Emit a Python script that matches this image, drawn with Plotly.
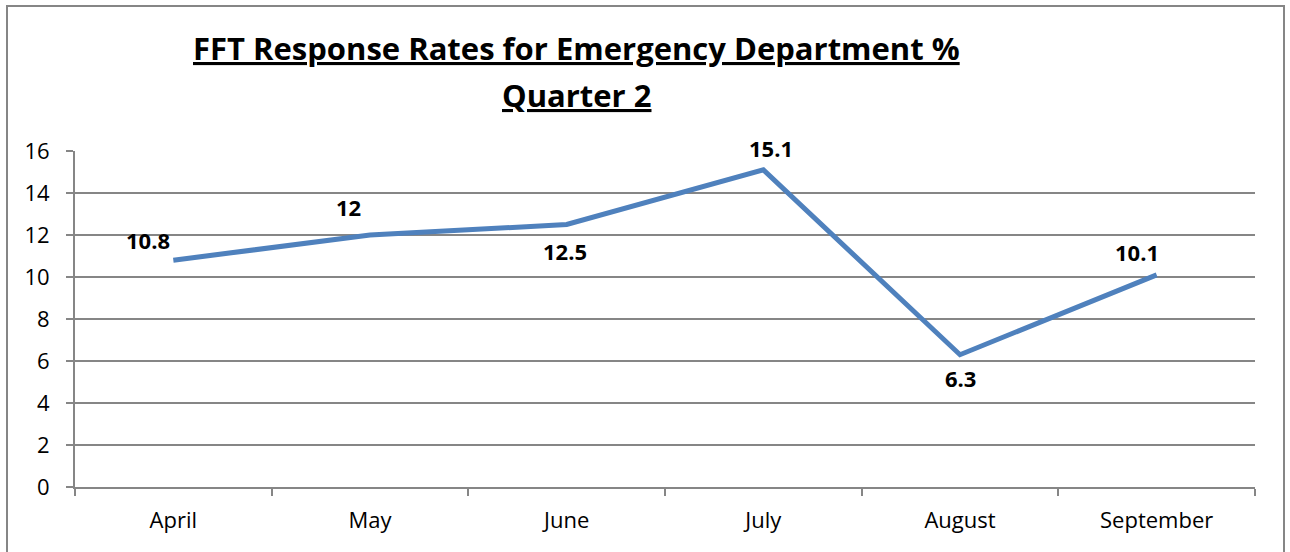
import plotly.graph_objects as go

months = ["April", "May", "June", "July", "August", "September"]
rates = [10.8, 12, 12.5, 15.1, 6.3, 10.1]
label_text = ["10.8", "12", "12.5", "15.1", "6.3", "10.1"]
label_dx = [-25, -22, -2, 8, 0, -20]
label_dy = [20, 28, -26, 22, -23, 23]

L, R, T, B = 75, 35, 151, 65
W, H = 1290, 552
pw, ph = W - L - R, H - T - B

def px_x(px):
    return (px - L) / pw

def px_y(py):
    return (H - B - py) / ph

fig = go.Figure()
fig.add_trace(go.Scatter(x=months, y=rates, mode="lines",
                         line=dict(color="#4F81BD", width=5),
                         hoverinfo="skip", showlegend=False))

for m, v, t, dx, dy in zip(months, rates, label_text, label_dx, label_dy):
    fig.add_annotation(x=m, y=v, text="<b>%s</b>" % t, showarrow=False,
                       xshift=dx, yshift=dy,
                       font=dict(family="Open Sans", size=22, color="black"))

fig.add_annotation(xref="paper", yref="paper", x=px_x(576), y=px_y(48),
                   text="<b><u>FFT Response Rates for Emergency Department %</u></b>",
                   showarrow=False, xanchor="center", yanchor="middle",
                   font=dict(family="Open Sans", size=31, color="black"))
fig.add_annotation(xref="paper", yref="paper", x=px_x(576), y=px_y(95),
                   text="<b><u>Quarter 2</u></b>",
                   showarrow=False, xanchor="center", yanchor="middle",
                   font=dict(family="Open Sans", size=31, color="black"))

fig.add_shape(type="rect", xref="paper", yref="paper",
              x0=px_x(7), x1=px_x(1284), y0=px_y(600), y1=px_y(6),
              line=dict(color="#868686", width=2), fillcolor="rgba(0,0,0,0)",
              layer="below")

fig.update_layout(
    width=W, height=H,
    margin=dict(l=L, r=R, t=T, b=B),
    paper_bgcolor="white", plot_bgcolor="white",
    font=dict(family="Open Sans", size=22, color="black"),
    showlegend=False,
)
fig.update_xaxes(type="category", tickson="boundaries", ticks="outside",
                 ticklen=7, tickcolor="#868686", tickwidth=2,
                 showline=True, linecolor="#868686", linewidth=2,
                 showgrid=False, tickfont=dict(size=22), range=[-0.5, 5.5],
                 ticklabelstandoff=13)
fig.update_yaxes(range=[0, 16], dtick=2, ticks="outside", ticklen=7,
                 tickcolor="#868686", tickwidth=2,
                 showline=True, linecolor="#868686", linewidth=2,
                 showgrid=True, gridcolor="#868686", gridwidth=2,
                 zeroline=False, tickfont=dict(size=22),
                 ticklabelstandoff=12)

fig.write_html("out.html")
